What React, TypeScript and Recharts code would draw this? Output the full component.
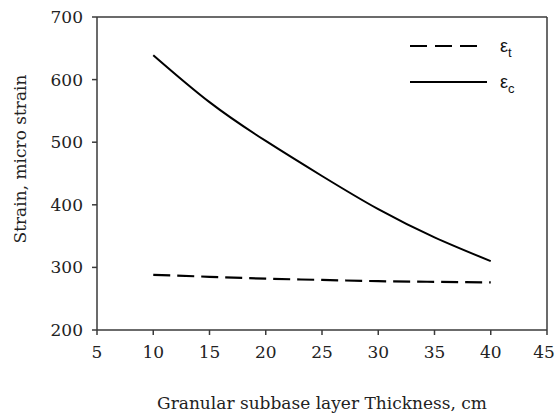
import { Label, Line, LineChart, ReferenceLine, XAxis, YAxis } from "recharts";

const thickness = [10, 15, 20, 25, 30, 35, 40];
const strainT = [288, 285, 282, 280, 278, 277, 276];
const strainC = [639, 564, 502, 446, 393, 348, 310];
const xTicks = [5, 10, 15, 20, 25, 30, 35, 40, 45];
const yTicks = [200, 300, 400, 500, 600, 700];

const data = thickness.map((t, i) => ({ t, et: strainT[i], ec: strainC[i] }));

const axisColor = "#3a3a3a";
const serif = "'DejaVu Serif', serif";
const chartW = 556;

// keep the last x label inside the picture
function XTick(props: any) {
  const { x, y, payload } = props;
  const cx = Math.min(x, chartW - 12);
  return (
    <text x={cx} y={y} dy="0.71em" textAnchor="middle" fill="#222" fontSize={17} fontFamily={serif}>
      {payload.value}
    </text>
  );
}

// legend drawn by hand, top right inside the frame
function StrainLegend() {
  const row = (dash: string | undefined, sub: string, y: number, len: number) => (
    <g>
      <line x1={0} x2={len} y1={y} y2={y} stroke="#000" strokeWidth={2.2} strokeDasharray={dash} />
      <text x={90} y={y + 6} fontFamily="'Liberation Sans', Arial, sans-serif" fontSize={18} fill="#111">
        ε
        <tspan fontSize={13} dy={5}>{sub}</tspan>
      </text>
    </g>
  );
  return (
    <svg width={130} height={70} style={{ position: "absolute", left: 410, top: 40, overflow: "visible" }}>
      {row("17 8", "t", 6, 68)}
      {row(undefined, "c", 42, 77)}
    </svg>
  );
}

export default function App() {
  return (
    <div style={{ position: "absolute", left: 0, top: 0, width: chartW, height: 415, background: "#fff" }}>
      <LineChart width={chartW} height={415} data={data} margin={{ top: 17, right: 9, bottom: 0, left: 0 }}>
        <XAxis
          dataKey="t"
          type="number"
          domain={[5, 45]}
          ticks={xTicks}
          height={85}
          stroke={axisColor}
          strokeWidth={1.5}
          tickSize={5}
          tickMargin={11}
          tick={<XTick />}
        >
          <Label
            value="Granular subbase layer Thickness, cm"
            position="insideBottom"
            offset={6}
            style={{ fill: "#222", fontSize: 17, fontFamily: serif }}
          />
        </XAxis>
        <YAxis
          type="number"
          domain={[200, 700]}
          ticks={yTicks}
          width={97}
          stroke={axisColor}
          strokeWidth={1.5}
          tickSize={5}
          tickMargin={9}
          tick={{ fill: "#222", fontSize: 17, fontFamily: serif }}
          label={{
            content: () => (
              <text
                transform="translate(26, 159) rotate(-90)"
                textAnchor="middle"
                fill="#222"
                fontSize={17}
                fontFamily={serif}
              >
                Strain, micro strain
              </text>
            ),
          }}
        />
        <ReferenceLine y={700} stroke={axisColor} strokeWidth={1.5} />
        <ReferenceLine x={45} stroke={axisColor} strokeWidth={1.5} />
        <Line
          type="natural"
          dataKey="et"
          stroke="#000"
          strokeWidth={2.2}
          strokeDasharray="17 7"
          dot={false}
          isAnimationActive={false}
        />
        <Line
          type="natural"
          dataKey="ec"
          stroke="#000"
          strokeWidth={2}
          dot={false}
          isAnimationActive={false}
        />
      </LineChart>
      <StrainLegend />
    </div>
  );
}
